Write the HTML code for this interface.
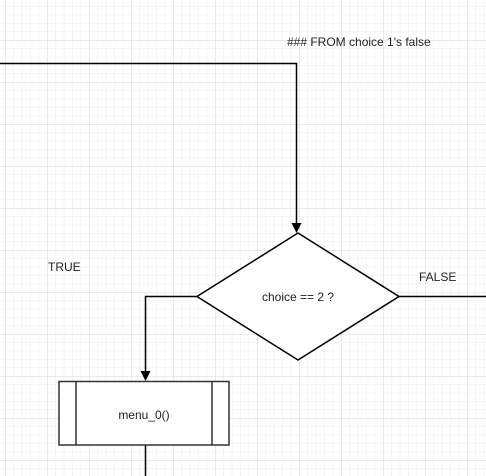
<!DOCTYPE html><html><head><style>body{margin:0;background:#fff}svg{display:block}</style></head><body>
<svg width="486" height="476" xmlns="http://www.w3.org/2000/svg">
<defs>
<pattern id="mi" width="8.4" height="8.4" patternUnits="userSpaceOnUse" x="5" y="40"><path d="M0 0H8.4M0 0V8.4" stroke="#ececec" stroke-width="1" fill="none"/></pattern>
<pattern id="ma" width="42" height="42" patternUnits="userSpaceOnUse" x="5" y="40"><path d="M0 0H42M0 0V42" stroke="#d6d6d6" stroke-width="1" fill="none"/></pattern>
</defs>
<rect width="486" height="476" fill="url(#mi)"/>
<rect width="486" height="476" fill="url(#ma)"/>
<g stroke="#000" stroke-width="1.5" fill="none">
<path d="M0 63.5H296.5V225"/>
<path d="M197 296.5H145.5V373"/>
<path d="M399 296.5H486"/>
<path d="M145.5 445V476"/>
</g>
<path d="M291.5 223L296.5 233L301.5 223Z" fill="#000"/>
<path d="M140.5 371L145.5 381L150.5 371Z" fill="#000"/>
<path d="M298 233L399 296.5L298 360L197 296.5Z" fill="#fff" stroke="#000" stroke-width="1.5"/>
<rect x="59" y="381.5" width="170" height="63.5" fill="#fff" stroke="#333" stroke-width="1.5"/>
<path d="M76 381.5V445M212 381.5V445" stroke="#333" stroke-width="1.5"/>
<g font-family="Liberation Sans, sans-serif" font-size="12" fill="#222">
<text x="287" y="46">### FROM choice 1's false</text>
<text x="48" y="271">TRUE</text>
<text x="419" y="281">FALSE</text>
<text x="298" y="301" text-anchor="middle">choice == 2 ?</text>
<text x="144" y="419" text-anchor="middle">menu_0()</text>
</g>
</svg></body></html>
